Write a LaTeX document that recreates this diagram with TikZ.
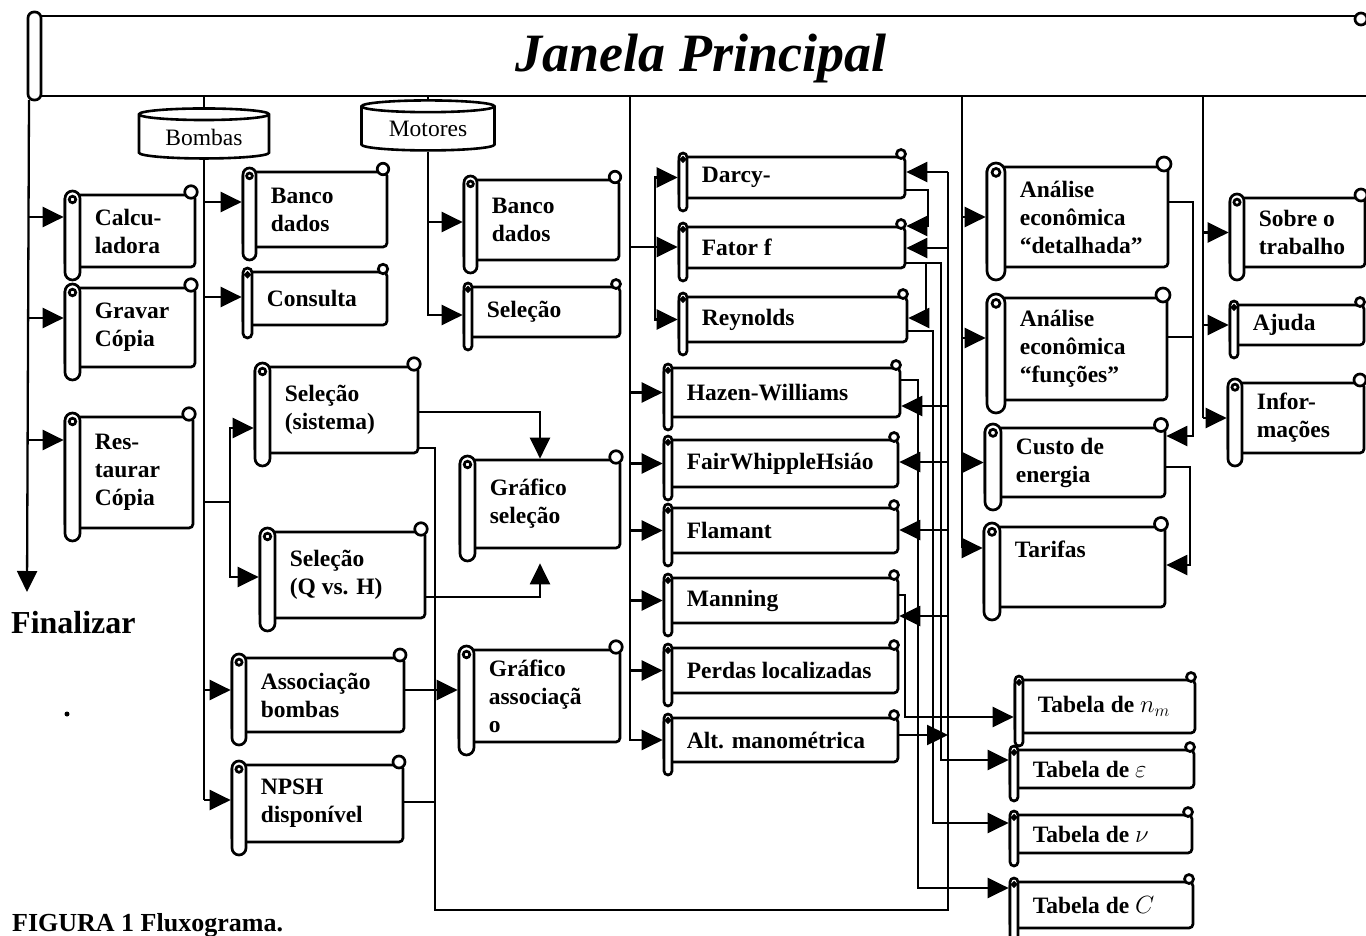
\documentclass[tikz,border=0pt]{standalone}
\usepackage{fontspec}
\setmainfont{Liberation Serif}
\usetikzlibrary{arrows.meta,positioning,calc,shapes.geometric}

\newcommand{\bodyfont}{\fontsize{23.5}{28}\selectfont\bfseries}
\newcommand{\dbfont}{\fontsize{23.5}{28}\selectfont}
\newcommand{\titlefont}{\fontsize{54}{60}\selectfont\bfseries\itshape}

% scroll box: [tube width]{name}{left}{top}{right}{bottom}{text}
\newcommand{\scrollnode}[7][14]{%
  \node[scrollbox,minimum width={(#5-#3)*1pt},minimum height={(#6-#4)*1pt}] (#2) at ({(#3+#5)/2},{(#4+#6)/2}) {};
  \pgfmathsetmacro\tuberad{#1/2}%
  \pgfmathsetmacro\txtoff{#1+16}%
  \draw[scrolledge,rounded corners=\tuberad pt] (#3,#4-4) rectangle (#3+#1,#6+13);
  \draw[scrolledge] (#3+0.5*#1,#4+0.3*#1) circle ({0.22*#1});
  \draw[scrolledge] (#5-4,#4-3) circle ({0.25*#1+2.5});
  \node[boxtext,right=\txtoff pt of #2.west] (#2txt) {#7};
}

\begin{document}
\begin{tikzpicture}[x=1pt,y=-1pt,
  conn/.style={line width=2.3pt},
  arr/.style={line width=2.3pt,-{Triangle[length=21pt,width=20pt]}},
  scrollbox/.style={rectangle,draw,fill=white,line width=2.7pt,rounded corners=4pt,inner sep=0pt},
  scrolledge/.style={draw,fill=white,line width=2.7pt},
  boxtext/.style={align=left,inner sep=0pt,font=\bodyfont},
  dbase/.style={cylinder,shape border rotate=90,aspect=0.15,draw,fill=white,line width=2.6pt,inner sep=0pt,font=\dbfont}]
\useasboundingbox (0,0) rectangle (1366,935);

% main window
\node[draw,line width=2.8pt,minimum width=1344pt,minimum height=80pt,inner sep=0pt] (janela) at (700,56) {};
\draw[scrolledge,rounded corners=6pt] (28,12) rectangle (41,100);
\draw[scrolledge] (1361,19) circle (6);
\node[font=\titlefont,anchor=base] (titulo) at (701,71) {Janela Principal};

% bus coordinates
\coordinate (leftbus) at (29,100);
\coordinate (finarrow) at (27,592);
\coordinate (bbus) at (204,96);
\coordinate (mbus) at (428,96);
\coordinate (midbus) at (630,96);
\coordinate (subbus) at (655,247);
\coordinate (ecobus) at (962,96);
\coordinate (infobus) at (1203,96);
\coordinate (selbus) at (230,502);
\coordinate (busL) at (435,910);
\coordinate (busR) at (948,910);

% data bases
\node[dbase,minimum width=130pt,minimum height=50pt] (bombas) at (204,137) {Bombas};
\node[dbase,minimum width=133pt,minimum height=50pt] (motores) at (428,129) {Motores};

% left column
\scrollnode[15]{calc}{65}{195}{195}{267}{Calcu-\\ladora}
\scrollnode[15]{grav}{65}{288}{195}{367}{Gravar\\Cópia}
\scrollnode[15]{rest}{65}{417}{193}{528}{Res-\\taurar\\Cópia}

% pumps
\scrollnode[13]{bancoB}{243}{172}{387}{247}{Banco\\dados}
\scrollnode[9]{consB}{243}{272}{387}{325}{Consulta}
\scrollnode[15]{selsis}{255}{367}{418}{453}{Seleção\\(sistema)}
\scrollnode[15]{selqh}{260}{532}{425}{618}{Seleção\\(Q vs. H)}
\scrollnode[14]{assoc}{232}{658}{404}{732}{Associação\\bombas}
\scrollnode[14]{npsh}{232}{765}{403}{842}{NPSH\\disponível}

% motors and graphs
\scrollnode[13]{bancoM}{464}{180}{619}{260}{Banco\\dados}
\scrollnode[8]{selM}{464}{287}{620}{337}{Seleção}
\scrollnode[15]{grsel}{460}{460}{620}{548}{Gráfico\\seleção}
\scrollnode[15]{grass}{459}{650}{620}{742}{Gráfico\\associaçã\\o}

% head loss
\scrollnode[8]{darcy}{679}{157}{905}{198}{Darcy-}
\scrollnode[8]{fator}{679}{227}{905}{268}{Fator f}
\scrollnode[8]{reyn}{679}{297}{907}{342}{Reynolds}
\scrollnode[8]{hazen}{664}{368}{900}{417}{Hazen-Williams}
\scrollnode[8]{fair}{664}{440}{898}{487}{FairWhippleHsiáo}
\scrollnode[8]{flam}{664}{508}{898}{553}{Flamant}
\scrollnode[8]{mann}{664}{578}{898}{623}{Manning}
\scrollnode[8]{perd}{664}{648}{898}{693}{Perdas localizadas}
\scrollnode[8]{altm}{664}{718}{898}{762}{Alt. manométrica}

% economics
\scrollnode[18]{anad}{987}{167}{1168}{267}{Análise\\econômica\\“detalhada”}
\scrollnode[18]{anaf}{987}{298}{1167}{400}{Análise\\econômica\\“funções”}
\scrollnode[16]{custo}{985}{428}{1165}{497}{Custo de\\energia}
\scrollnode[16]{tarif}{984}{527}{1165}{607}{Tarifas\\\strut}

% help
\scrollnode[14]{sobre}{1230}{198}{1365}{267}{Sobre o\\trabalho}
\scrollnode[8]{ajuda}{1230}{305}{1364}{345}{Ajuda}
\scrollnode[14]{info}{1228}{383}{1364}{453}{Infor-\\mações}

% tables
\scrollnode[8]{tabn}{1015}{680}{1195}{733}{Tabela de $n_m$}
\scrollnode[8]{tabe}{1010}{750}{1194}{788}{Tabela de $\varepsilon$}
\scrollnode[8]{tabv}{1010}{815}{1192}{853}{Tabela de $\nu$}
\scrollnode[8]{tabc}{1010}{882}{1193}{928}{Tabela de $C$}

% texts outside
\node[font=\fontsize{32}{36}\selectfont\bfseries,anchor=west,inner sep=0pt] (fin) at (11,623) {Finalizar};
\node[font=\fontsize{26}{30}\selectfont\bfseries,anchor=base west,inner sep=0pt] (legenda) at (12,931) {FIGURA 1 Fluxograma.};
\fill (67,714) circle (2.5);

% left bus
\draw[arr] (leftbus) -- (finarrow);
\draw[arr] (leftbus |- 0,217) -- (calc.west |- 0,217);
\draw[arr] (leftbus |- 0,318) -- (grav.west |- 0,318);
\draw[arr] (leftbus |- 0,440) -- (rest.west |- 0,440);

% pumps bus
\draw[conn] (bbus) -- (bombas.north);
\draw[conn] (bombas.south) -- (bbus |- 0,800);
\draw[arr] (bbus |- 0,202) -- (bancoB.west |- 0,202);
\draw[arr] (bbus |- 0,297) -- (consB.west |- 0,297);
\draw[arr] (bbus |- 0,690) -- (assoc.west |- 0,690);
\draw[arr] (bbus |- 0,800) -- (npsh.west |- 0,800);
\draw[conn] (bbus |- selbus) -- (selbus);
\draw[arr] (selbus) |- (selsis.west |- 0,428);
\draw[arr] (selbus) |- (selqh.west |- 0,577);

% motors bus
\draw[conn] (mbus) -- (motores.north);
\draw[arr] (motores.south) |- (bancoM.west |- 0,222);
\draw[arr] (motores.south) |- (selM.west |- 0,315);

% selection graphs
\draw[arr] (selsis.east |- 0,412) -| (grsel.north);
\draw[arr] (selqh.east |- 0,597) -| ([yshift=-14pt]grsel.south);
\draw[arr] (assoc.east |- 0,690) -- (grass.west |- 0,690);

% return bus
\draw[conn] (selsis.east |- 0,448) -| (busL) -- (busR) -- (busR |- 0,172);
\draw[conn] (npsh.east |- 0,802) -- (busL |- 0,802);
\draw[arr] (busR |- 0,172) -- (darcy.east |- 0,172);
\draw[arr] (busR |- 0,248) -- (fator.east |- 0,248);
\draw[arr] (busR |- 0,406) -- (hazen.east |- 0,406);
\draw[arr] (busR |- 0,462) -- (fair.east |- 0,462);
\draw[arr] (busR |- 0,530) -- (flam.east |- 0,530);
\draw[arr] (busR |- 0,616) -- (mann.east |- 0,616);
\draw[arr] (altm.east |- 0,735) -- (busR |- 0,735);

% head loss bus
\draw[arr] (midbus) |- (altm.west);
\draw[arr] (midbus |- subbus) -- (fator.west |- subbus);
\draw[arr] (subbus) |- (darcy.west);
\draw[arr] (subbus) |- (reyn.west);
\draw[arr] (midbus |- hazen.west) -- (hazen.west);
\draw[arr] (midbus |- fair.west) -- (fair.west);
\draw[arr] (midbus |- flam.west) -- (flam.west);
\draw[arr] (midbus |- mann.west) -- (mann.west);
\draw[arr] (midbus |- perd.west) -- (perd.west);

% links between methods and tables
\draw[arr] (darcy.east |- 0,190) -| (928,226) -- (fator.east |- 0,226);
\draw[arr] (fator.east |- 0,263) -| (926,318) -- (reyn.east |- 0,318);
\draw[arr] (fator.east |- 0,263) -| (941,760) -- (tabe.west |- 0,760);
\draw[arr] (reyn.east |- 0,331) -| (933,823) -- (tabv.west |- 0,823);
\draw[arr] (hazen.east |- 0,380) -| (918,888) -- (tabc.west |- 0,888);
\draw[arr] (mann.east |- 0,595) -| (905,717) -- (tabn.west |- 0,717);

% economics bus
\draw[conn] (ecobus) -- (ecobus |- 0,548);
\draw[arr] (ecobus |- anad.west) -- (anad.west);
\draw[arr] (ecobus |- 0,338) -- (anaf.west |- 0,338);
\draw[arr] (ecobus |- custo.west) -- (custo.west);
\draw[arr] (ecobus |- 0,548) -- (tarif.west |- 0,548);
\draw[arr] (anad.east |- 0,202) -| (1193,436) -- (custo.east |- 0,436);
\draw[conn] (anaf.east |- 0,337) -- (1193,337);
\draw[arr] (custo.east |- 0,467) -| (1190,565) -- (tarif.east |- 0,565);

% help bus
\draw[conn] (infobus) -- (infobus |- info.west);
\draw[arr] (infobus |- sobre.west) -- (sobre.west);
\draw[arr] (infobus |- ajuda.west) -- (ajuda.west);
\draw[arr] (infobus |- info.west) -- (info.west);
\end{tikzpicture}
\end{document}
